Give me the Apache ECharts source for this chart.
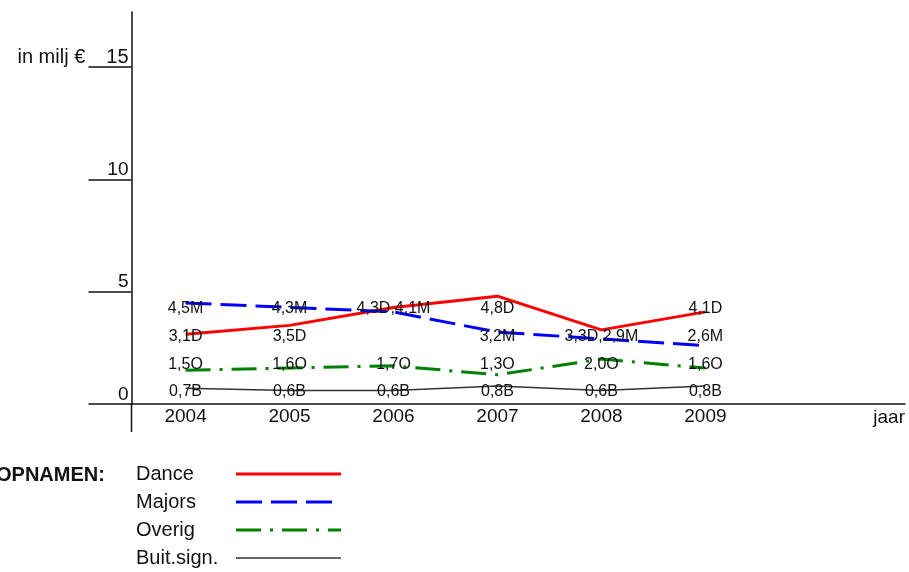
<!DOCTYPE html>
<html>
<head>
<meta charset="utf-8">
<script src="https://cdn.jsdelivr.net/npm/echarts@6/dist/echarts.min.js"></script>
<style>
  html, body { margin: 0; padding: 0; background: #fff; }
  #chart { width: 909px; height: 572px; }
</style>
</head>
<body>
<div id="chart"></div>
<script>
// Omzet per jaar (in miljoen euro)
const years = [2004, 2005, 2006, 2007, 2008, 2009];
const dance = [3.1, 3.5, 4.3, 4.8, 3.3, 4.1];
const majors = [4.5, 4.3, 4.1, 3.2, 2.9, 2.6];
const overig = [1.5, 1.6, 1.7, 1.3, 2.0, 1.6];
const buitSign = [0.7, 0.6, 0.6, 0.8, 0.6, 0.8];
const seriesNames = ['Dance', 'Majors', 'Overig', 'Buit.sign.'];
const suffixes = ['D', 'M', 'O', 'B'];
const yTickValues = [0, 5, 10, 15];

const FONT = 'Liberation Sans, Arial, sans-serif';
const INK = '#111111';
const X_MIN = 2003.48, X_MAX = 2010.92;

const fmt = (v, s) => v.toFixed(1).replace('.', ',') + s;

// Value-label rows under the lines: high Dance/Majors values, the rest of
// Dance/Majors, then Overig and Buit.sign. on their own rows.
const rowLevels = [4.25, 3.0, 1.75, 0.55];
const rowTexts = [[], [], [], []];
years.forEach((y, i) => {
  const top = [], mid = [];
  (dance[i] >= 4 ? top : mid).push(fmt(dance[i], suffixes[0]));
  (majors[i] >= 4 ? top : mid).push(fmt(majors[i], suffixes[1]));
  rowTexts[0].push(top.join(','));
  rowTexts[1].push(mid.join(','));
  rowTexts[2].push(fmt(overig[i], suffixes[2]));
  rowTexts[3].push(fmt(buitSign[i], suffixes[3]));
});

const styles = [
  { color: '#ff0000', width: 3, type: 'solid' },
  { color: '#0000ff', width: 3, type: [26, 9] },
  { color: '#008000', width: 3, type: [25, 9, 3, 9] },
  { color: '#333333', width: 1.5, type: 'solid' }
];
const seriesValues = [dance, majors, overig, buitSign];

const lineSeries = seriesNames.map((name, k) => ({
  name: name,
  type: 'line',
  data: years.map((y, i) => [y, seriesValues[k][i]]),
  symbol: 'none',
  z: 2,
  itemStyle: { color: styles[k].color },
  lineStyle: { color: styles[k].color, width: styles[k].width, type: styles[k].type }
}));

const labelSeries = rowTexts.map((texts, r) => ({
  type: 'scatter',
  name: 'labels' + r,
  z: 3,
  symbol: 'circle',
  symbolSize: 0,
  itemStyle: { color: INK },
  data: years.map((y, i) => [y, rowLevels[r], texts[i]]).filter(d => d[2] !== ''),
  label: {
    show: true,
    position: 'inside',
    formatter: p => p.value[2],
    color: INK,
    opacity: 1,
    fontFamily: FONT,
    fontSize: 16
  },
  emphasis: { disabled: true },
  silent: true
}));

const chart = echarts.init(document.getElementById('chart'), null, { renderer: 'canvas' });
chart.setOption({
  animation: false,
  backgroundColor: '#ffffff',
  grid: { left: 131.5, right: 4, top: 12, bottom: 168 },
  xAxis: {
    type: 'value',
    min: X_MIN,
    max: X_MAX,
    name: 'jaar',
    nameLocation: 'end',
    nameGap: 0,
    nameTextStyle: {
      color: INK, fontFamily: FONT, fontSize: 19,
      align: 'right', verticalAlign: 'top', padding: [4, 0, 0, 0]
    },
    splitLine: { show: false },
    axisLine: { lineStyle: { color: INK, width: 1.5 } },
    axisTick: { show: false },
    axisLabel: {
      customValues: years,
      formatter: v => String(v),
      color: INK, fontFamily: FONT, fontSize: 19, margin: 3
    }
  },
  yAxis: {
    type: 'value',
    min: 0,
    max: 17.45,
    splitLine: { show: false },
    axisLine: { onZero: false, lineStyle: { color: INK, width: 1.5 } },
    axisTick: {
      customValues: yTickValues,
      length: 43,
      lineStyle: { color: INK, width: 1.5 }
    },
    axisLabel: {
      customValues: yTickValues,
      margin: 3,
      verticalAlign: 'bottom',
      color: INK, fontFamily: FONT, fontSize: 19,
      formatter: v => v === 15 ? '{u|in milj €}{v|15}' : String(v),
      rich: {
        u: { color: INK, fontFamily: FONT, fontSize: 20, padding: [0, 21, 0, 0] },
        v: { color: INK, fontFamily: FONT, fontSize: 20 }
      }
    }
  },
  legend: {
    data: seriesNames.map((name, k) => ({
      name: name,
      lineStyle: { color: styles[k].color, width: k === 3 ? 1.5 : 3, type: styles[k].type }
    })),
    orient: 'vertical',
    left: 136,
    top: 464,
    padding: 0,
    align: 'right',
    itemWidth: 105,
    itemHeight: 14,
    itemGap: 8,
    selectedMode: false,
    itemStyle: { color: 'rgba(0,0,0,0)', borderWidth: 0, opacity: 0 },
    formatter: name => '{t|' + name + '}',
    textStyle: {
      color: INK, fontFamily: FONT, fontSize: 20,
      rich: { t: { width: 95, height: 20, align: 'left', lineHeight: 20, color: INK, fontFamily: FONT, fontSize: 20 } }
    }
  },
  graphic: [{
    id: 'legendTitle',
    type: 'text',
    left: -4,
    top: 465,
    style: {
      text: 'OPNAMEN:',
      fill: INK,
      font: 'bold 20px ' + FONT
    }
  }],
  series: lineSeries.concat(labelSeries)
});

// The value axis continues a little below the category line.
const origin = chart.convertToPixel({ gridIndex: 0 }, [X_MIN, 0]);
chart.setOption({
  graphic: [{
    id: 'yAxisTail',
    type: 'line',
    shape: { x1: origin[0], y1: origin[1], x2: origin[0], y2: origin[1] + 28 },
    style: { stroke: INK, lineWidth: 1.5 },
    silent: true
  }]
});
</script>
</body>
</html>
